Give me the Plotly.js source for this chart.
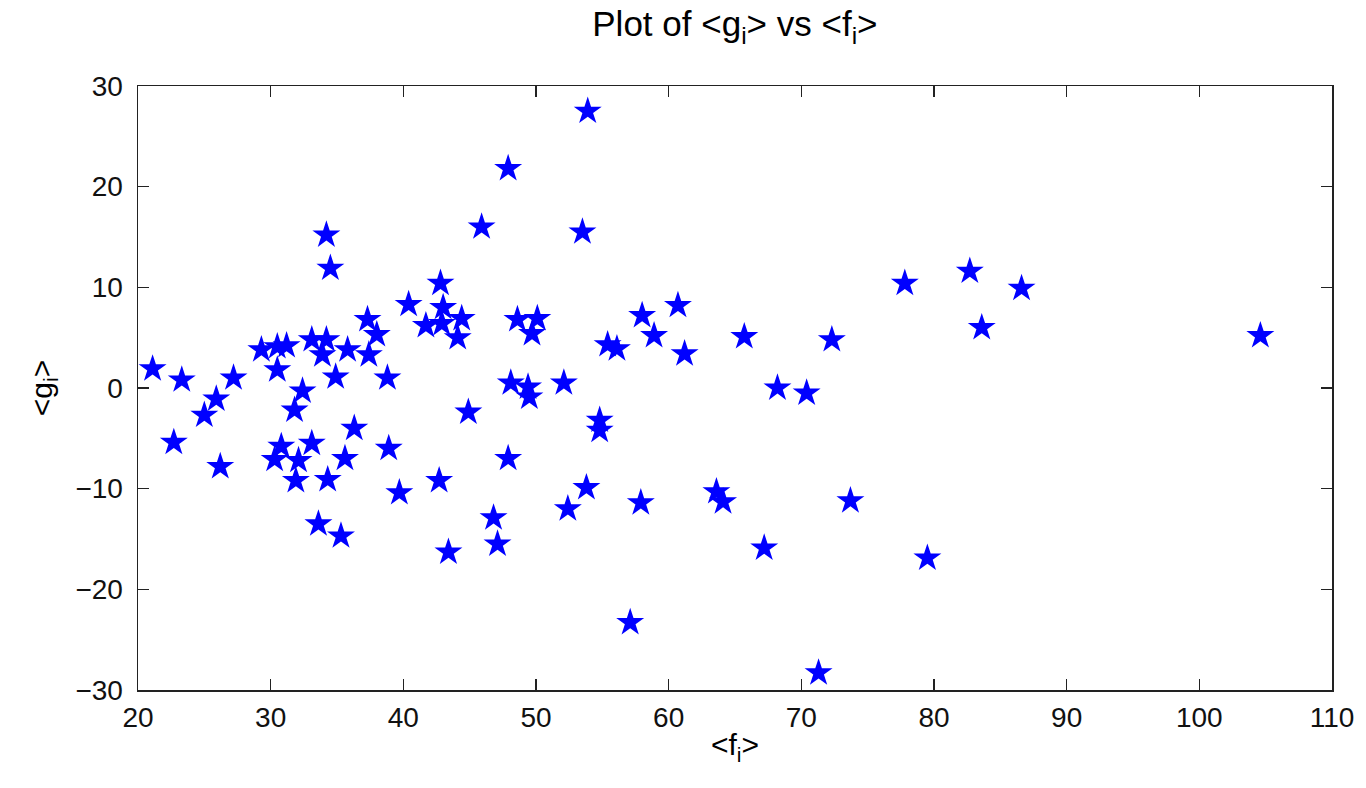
<!DOCTYPE html>
<html>
<head>
<meta charset="utf-8">
<script src="https://cdn.plot.ly/plotly-3.0.1.min.js"></script>
<style>html,body{margin:0;padding:0;background:#fff;}#chart{width:1366px;height:788px;}</style>
</head>
<body>
<div id="chart"></div>
<script>
var fMean = [34.2,34.5,42.8,40.4,43.0,37.3,41.7,42.9,44.4,44.1,38.0,33.1,34.2,33.9,35.8,37.4,29.3,30.5,31.2,30.5,
  34.9,38.8,21.1,23.3,27.2,32.4,25.9,25.0,31.8,44.9,36.3,22.7,30.8,33.1,38.9,30.3,32.1,35.6,26.2,31.9,
  34.3,42.7,39.7,33.6,35.3,43.4,45.9,53.9,47.9,53.5,48.6,50.1,49.7,58.0,60.7,58.9,55.4,56.1,61.2,48.1,
  49.4,49.5,52.1,54.8,54.8,47.9,53.8,52.4,57.9,46.8,47.1,65.7,72.3,68.2,70.4,63.6,64.1,73.7,67.2,79.5,
  57.1,71.3,77.8,82.7,86.6,83.6,104.6];
var gMean = [15.2,11.9,10.4,8.3,8.0,6.8,6.2,6.4,6.9,5.0,5.3,4.8,4.8,3.3,3.8,3.3,3.8,4.1,4.2,1.8,
  1.1,1.0,1.9,0.8,1.0,-0.3,-1.1,-2.7,-2.2,-2.4,-4.0,-5.4,-5.8,-5.5,-6.0,-7.1,-7.2,-7.0,-7.8,-9.2,
  -9.1,-9.2,-10.4,-13.5,-14.7,-16.3,16.0,27.5,21.8,15.5,6.8,6.9,5.4,7.2,8.2,5.2,4.3,3.9,3.4,0.5,
  0.1,-0.9,0.5,-3.2,-4.2,-7.0,-9.9,-12.0,-11.4,-12.9,-15.5,5.1,4.8,0.0,-0.5,-10.3,-11.3,-11.2,-15.9,-16.9,
  -23.3,-28.3,10.4,11.6,9.9,6.0,5.2];
var xTicks = [20,30,40,50,60,70,80,90,100,110];
var yTicks = [-30,-20,-10,0,10,20,30];

var font = "Liberation Sans, Arial, sans-serif";
var trace = {
  x: fMean, y: gMean, type: 'scatter', mode: 'markers',
  marker: {symbol: 'star', size: 21, color: '#0000ff', line: {width: 0}},
  hoverinfo: 'x+y'
};
var axisCommon = {
  showgrid: false, zeroline: false, showline: true, linecolor: '#222', linewidth: 1.5,
  mirror: 'ticks', ticks: 'inside', ticklen: 11, tickwidth: 1.3, tickcolor: '#222',
  tickfont: {family: font, size: 28, color: '#111'}
};
var layout = {
  width: 1366, height: 788,
  paper_bgcolor: '#fff', plot_bgcolor: '#fff',
  margin: {l: 138, r: 34, t: 86, b: 98},
  showlegend: false,
  title: {text: 'Plot of &lt;g<sub>i</sub>&gt; vs &lt;f<sub>i</sub>&gt;', x: 0.538, xanchor: 'center', y: 0.985, yanchor: 'top',
    font: {family: font, size: 35, color: '#000'}},
  xaxis: Object.assign({}, axisCommon, {range: [20, 110], tickvals: xTicks, ticktext: xTicks.map(String),
    ticklabelstandoff: 2,
    title: {text: '&lt;f<sub>i</sub>&gt;', font: {family: font, size: 30, color: '#000'}, standoff: 2}}),
  yaxis: Object.assign({}, axisCommon, {range: [-30, 30], tickvals: yTicks, ticktext: yTicks.map(function(v){return v<0 ? '\u2212'+Math.abs(v) : String(v);}),
    ticklabelstandoff: 8,
    title: {text: '&lt;g<sub>i</sub>&gt;', font: {family: font, size: 30, color: '#000'}, standoff: 14}})
};
Plotly.newPlot('chart', [trace], layout, {displayModeBar: false, staticPlot: true});
</script>
</body>
</html>
